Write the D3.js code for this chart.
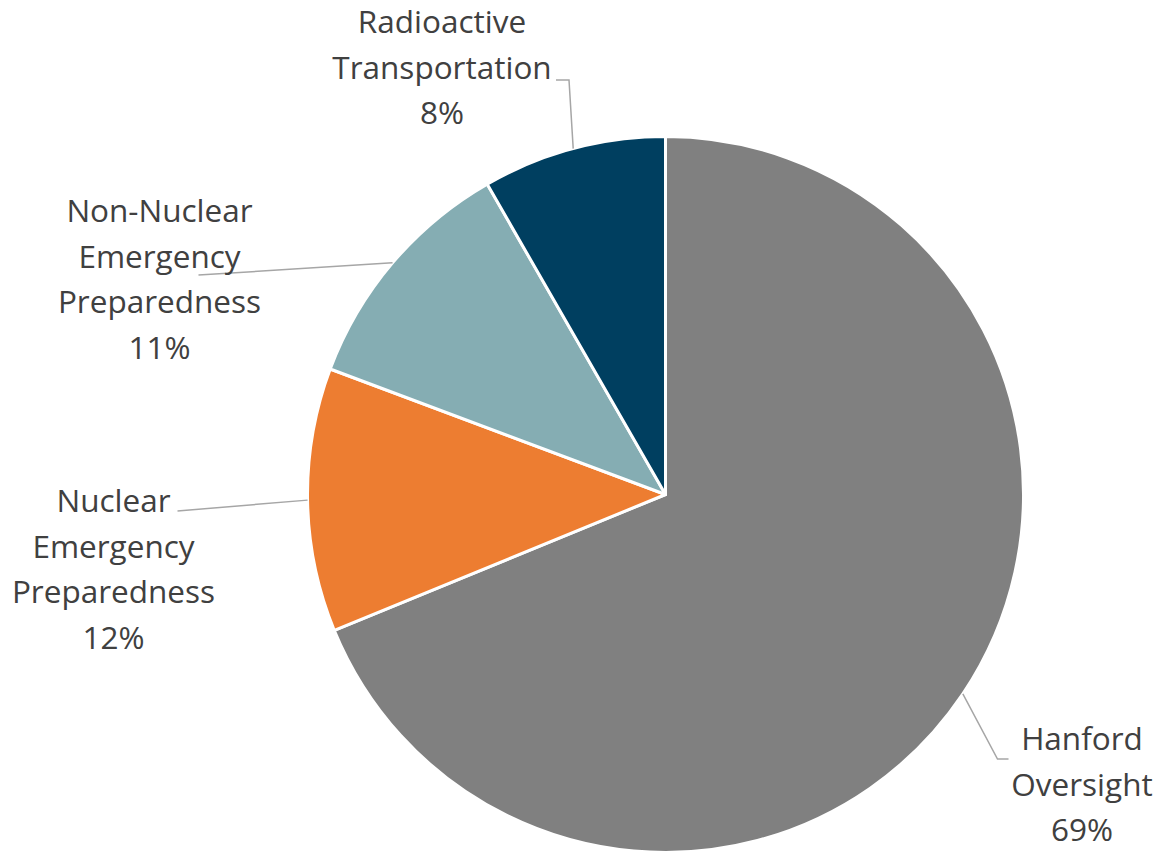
<!DOCTYPE html>
<html>
<head>
<meta charset="utf-8">
<script src="https://cdn.jsdelivr.net/npm/d3@7"></script>
<style>
  html, body { margin: 0; padding: 0; background: #ffffff; }
  svg { display: block; }
</style>
</head>
<body>
<svg id="chart" width="1160" height="853"></svg>
<script>
// ---- data ----
const categories = ["Hanford Oversight", "Nuclear Emergency Preparedness", "Non-Nuclear Emergency Preparedness", "Radioactive Transportation"];
const labelLines = [["Hanford", "Oversight"], ["Nuclear", "Emergency", "Preparedness"], ["Non-Nuclear", "Emergency", "Preparedness"], ["Radioactive", "Transportation"]];
const values = [68.8, 11.9, 11.0, 8.3];
const colors = ["#808080", "#ED7D31", "#85ADB3", "#003F60"];

// ---- layout (label placement relative to pie center) ----
const W = 1160, H = 853;
const cx = 665.5, cy = 494.5, R = 358;
const fontSize = 31.5, lineH = 45.5;
// text block: centre x, first baseline y (relative to centre); leader: elbow & end (relative)
const labelLayout = [
  { tx: 416.5, ty: 255.5, elbow: [332, 264.5], end: [343, 264.5] },
  { tx: -552, ty: 17.5, elbow: [-488, 16.5], end: [-488, 16.5] },
  { tx: -506, ty: -272.5, elbow: [-467, -219.5], end: [-467, -219.5] },
  { tx: -223.5, ty: -461.5, elbow: [-96.5, -414.5], end: [-109.5, -414.5] }
];

const svg = d3.select("#chart");
const g = svg.append("g").attr("transform", `translate(${cx},${cy})`);

const pie = d3.pie().sort(null).value(d => d)(values);
const arc = d3.arc().innerRadius(0).outerRadius(R);
const color = d3.scaleOrdinal().domain(categories).range(colors);
const total = d3.sum(values);

g.selectAll("path.slice")
  .data(pie)
  .join("path")
  .attr("class", "slice")
  .attr("d", arc)
  .attr("fill", (d, i) => color(categories[i]))
  .attr("stroke", "#ffffff")
  .attr("stroke-width", 3)
  .attr("stroke-linejoin", "round");

// leader lines
const edgeArc = d3.arc().innerRadius(R - 1).outerRadius(R - 1);
g.selectAll("polyline.leader")
  .data(pie)
  .join("polyline")
  .attr("class", "leader")
  .attr("fill", "none")
  .attr("stroke", "#A6A6A6")
  .attr("stroke-width", 1.5)
  .attr("points", (d, i) => {
    const a = (d.startAngle + d.endAngle) / 2;
    const p0 = [R * Math.sin(a), -R * Math.cos(a)];
    const L = labelLayout[i];
    return [p0, L.elbow, L.end].map(p => p.join(",")).join(" ");
  });

// labels
const labels = g.selectAll("text.lbl")
  .data(pie)
  .join("text")
  .attr("class", "lbl")
  .attr("text-anchor", "middle")
  .attr("font-family", "'Open Sans', sans-serif")
  .attr("font-size", fontSize)
  .attr("fill", "#404040");

labels.each(function(d, i) {
  const L = labelLayout[i];
  const lines = labelLines[i].concat([Math.round(d.value / total * 100) + "%"]);
  const t = d3.select(this);
  lines.forEach((ln, k) => {
    t.append("tspan")
      .attr("x", L.tx)
      .attr("y", L.ty + k * lineH)
      .text(ln);
  });
});
</script>
</body>
</html>
